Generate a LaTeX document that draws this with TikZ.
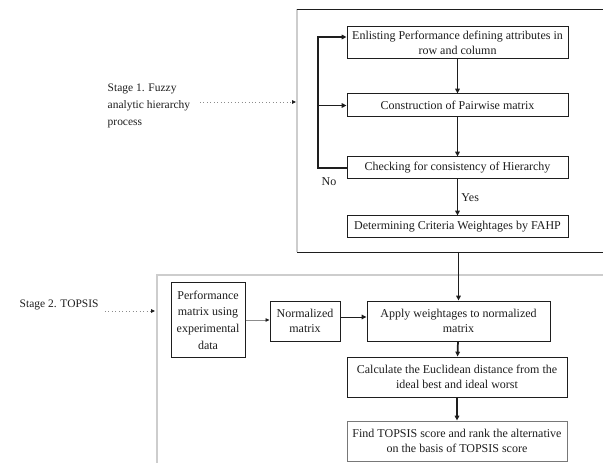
\documentclass[tikz,border=0pt]{standalone}
\usepackage{fontspec}
\setmainfont{Liberation Serif}
\usepackage{xcolor}
\usepackage{tikz}
\usetikzlibrary{arrows.meta,positioning,calc}
\definecolor{ink}{HTML}{1E1E1E}
\definecolor{muted}{HTML}{8C8C8C}
\definecolor{framegray}{HTML}{CDCDCD}
\tikzset{
  >={Triangle[length=3.6pt,width=3.4pt]},
  stepbox/.style={draw=ink, line width=.75pt, fill=white, align=center, inner sep=1pt,
    text=ink, font=\fontsize{9}{11.5}\selectfont},
  flow/.style={->, line width=1.3pt, color=ink},
  thinflow/.style={->, line width=.7pt, color=ink},
  grayflow/.style={-{Triangle[length=3pt,width=2.6pt,color=ink]}, line width=.5pt, color=muted},
  dotflow/.style={-{Triangle[length=3pt,width=2.8pt,color=ink]}, dotted, line width=.6pt, color=muted},
  stagelabel/.style={anchor=west, align=left, text=ink, font=\fontsize{8.6}{12.75}\selectfont},
  tag/.style={text=ink, font=\fontsize{9}{11}\selectfont}
}
\begin{document}
\begin{tikzpicture}[x=.75pt,y=-.75pt]
  \clip (0,0) rectangle (603,463);
  \fill[white] (0,0) rectangle (603,463);

  % stage 1 frame
  \draw[framegray,line width=1.2pt] (297,9) -- (297,252);
  \draw[ink,line width=.7pt] (297,9) -- (612,9);
  \draw[ink,line width=.7pt] (297,252) -- (612,252);
  \coordinate (stageA) at (459,252);

  % stage 2 frame
  \draw[framegray,line width=1pt] (612,275) -- (157,275) -- (157,470);

  % stage 1 steps
  \node[stepbox,minimum width=165.75pt,minimum height=24pt] (enl) at (457.5,43)
    {Enlisting Performance defining attributes in\\row and column};
  \node[stepbox,minimum width=165.75pt,minimum height=17.25pt] (con) at (457.5,105.5)
    {Construction of Pairwise matrix};
  \node[stepbox,minimum width=165.75pt,minimum height=16.5pt] (chk) at (457.5,168)
    {Checking for consistency of Hierarchy};
  \node[stepbox,minimum width=165.75pt,minimum height=16.5pt] (det) at (457.5,227)
    {Determining Criteria Weightages by FAHP};

  \draw[flow] (enl) -- (con);
  \draw[flow] (con) -- (chk);
  \draw[flow] (chk) -- node[tag,right=-1pt] (yes) {Yes} (det);
  \coordinate (looptop) at (318,37);
  \draw[flow] (chk.west) -| (looptop) -- (looptop -| enl.west);
  \draw[flow] (con.west -| looptop) -- (con.west);
  \node[tag] (no) at (329,182) {No};

  % stage 2 steps
  \node[stepbox,minimum width=55.5pt,minimum height=55.5pt,
    font=\fontsize{9}{12.5}\selectfont] (perf) at (208,320)
    {Performance\\matrix using\\experimental\\data};
  \node[stepbox,minimum width=52.5pt,minimum height=30pt] (norm) at (305,321)
    {Normalized\\matrix};
  \node[stepbox,minimum width=137.25pt,minimum height=30pt] (apply) at (458.5,321)
    {Apply weightages to normalized\\matrix};
  \node[stepbox,minimum width=165pt,minimum height=30pt] (calc) at (457,377)
    {Calculate the Euclidean distance from the\\ideal best and ideal worst};
  \node[stepbox,draw=ink!60,minimum width=165pt,minimum height=30pt] (find) at (457,441)
    {Find TOPSIS score and rank the alternative\\on the basis of TOPSIS score};

  \draw[flow] (apply.north |- stageA) -- (apply.north);
  \draw[grayflow] (perf.east) -- (perf.east -| norm.west);
  \draw[thinflow] ([yshift=3pt]norm.east) -- ([yshift=3pt]norm.east -| apply.west);
  \draw[flow] (apply) -- (calc);
  \draw[flow] (calc) -- (find);

  % stage labels
  \node[stagelabel] (lblA) at (103,106) {Stage 1. Fuzzy\\analytic hierarchy\\process};
  \node[stagelabel] (lblB) at (15,305) {Stage 2. TOPSIS};
  \draw[dotflow] (200,102) -- (296,102);
  \draw[dotflow] (105,311) -- (155,311);
\end{tikzpicture}
\end{document}
